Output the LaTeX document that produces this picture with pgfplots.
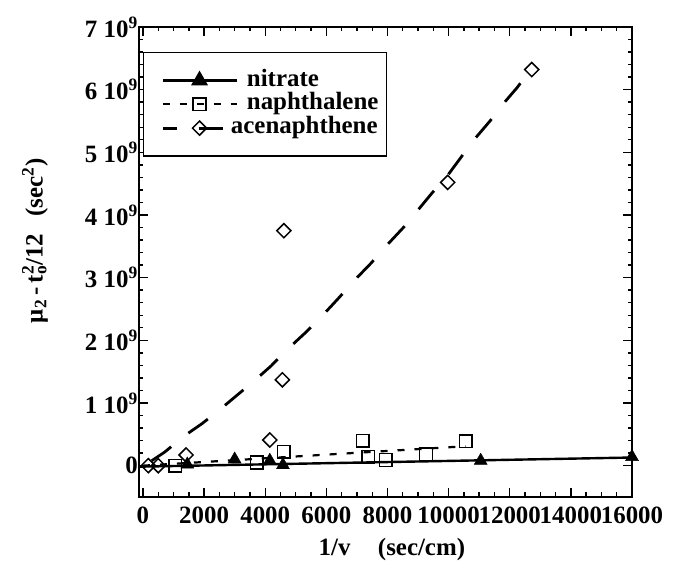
\documentclass[border=0pt]{standalone}
\usepackage{fontspec}
\setmainfont{Liberation Serif}
\usepackage{pgfplots}
\pgfplotsset{compat=1.18}

\newcommand{\lab}{\fontsize{25}{30}\selectfont\bfseries}

\begin{document}
\begin{tikzpicture}
\begin{axis}[
  scale only axis,
  width=493bp, height=470bp,
  xmin=-130, xmax=16000,
  ymin=-0.5e9, ymax=7e9,
  clip=false,
  axis line style={line width=2bp},
  every tick/.style={black, line width=1.4bp},
  major tick length=9bp, minor tick length=4.5bp,
  tick align=inside,
  xtick={0,2000,4000,6000,8000,10000,12000,14000,16000},
  xticklabels={0,2000,4000,6000,8000,10000,12000,14000,16000},
  minor x tick num=3,
  ytick={0,1e9,2e9,3e9,4e9,5e9,6e9,7e9},
  yticklabels={0,
    1 10\textsuperscript{9},2 10\textsuperscript{9},3 10\textsuperscript{9},
    4 10\textsuperscript{9},5 10\textsuperscript{9},6 10\textsuperscript{9},
    7 10\textsuperscript{9}},
  minor y tick num=4,
  scaled ticks=false,
  tick label style={font=\lab},
  xticklabel style={yshift=-6bp},
  yticklabel style={inner xsep=1bp},
  xlabel={1/v\hspace{1.1em}(sec/cm)},
  xlabel style={font=\lab, at={(axis description cs:0.513,-0.111)}, anchor=center},
  ylabel={μ\textsubscript{2}\,-\,t\rlap{\textsuperscript{2}}\textsubscript{o}/12\hspace{0.7em}(sec\textsuperscript{2})},
  ylabel style={font=\lab, at={(axis description cs:-0.211,0.545)}, anchor=center},
  legend style={at={(axis description cs:0.008,0.947)}, anchor=north west,
    draw=black, line width=1.4bp, inner xsep=8bp, inner ysep=16bp,
    font=\lab, row sep=0bp, column sep=0bp,
    nodes={inner ysep=0bp, inner xsep=0bp, text height=17.5bp, text depth=6.3bp}},
  legend cell align=left,
  legend image code/.code={
    \node[draw=none, fill=none, inner sep=0pt, minimum size=0pt] at (-12bp,0bp) {};
    \draw[mark repeat=2, mark phase=2, #1] plot coordinates {(0bp,0bp) (37bp,0bp) (74bp,0bp)};
  },
]

% legend entries: fitted line with its marker
\addlegendimage{black, line width=2.4bp, mark=triangle*, mark size=7.5bp, mark options={solid, fill=black}}
\addlegendentry{\hspace{9bp}nitrate}
\addlegendimage{black, line width=2.2bp, dash pattern=on 7bp off 10bp, mark=square, mark size=6.3bp, mark options={solid, line width=1.5bp, fill=white}}
\addlegendentry{\hspace{9bp}naphthalene}
\addlegendimage{black, line width=2.8bp, dash pattern=on 24bp off 22bp, dash phase=10bp, mark=square, mark size=5bp, mark options={solid, rotate=45, line width=1.5bp, fill=white}}
\addlegendentry{\hspace{-7bp}acenaphthene}

% nitrate: linear fit
\addplot[forget plot, black, line width=2.4bp] coordinates {(-130,-0.016e9) (16000,0.13e9)};

% naphthalene: linear fit
\addplot[forget plot, black, line width=2.2bp, dash pattern=on 7bp off 10bp]
  coordinates {(0,0) (10560,0.31e9)};

% acenaphthene: curved fit
\addplot[forget plot, black, line width=2.8bp, dash pattern=on 24bp off 22bp, dash phase=36bp]
  coordinates {
    (0,0) (229,0.06e9) (720,0.22e9) (1309,0.46e9) (1930,0.67e9) (2454,0.87e9)
    (3043,1.11e9) (3632,1.35e9) (4188,1.59e9) (4712,1.85e9) (5333,2.13e9)
    (5824,2.37e9) (6413,2.68e9) (6904,2.95e9) (7460,3.23e9) (7984,3.52e9)
    (8540,3.81e9) (8965,4.06e9) (9456,4.35e9) (9980,4.64e9) (10405,4.92e9)
    (10830,5.20e9) (11354,5.50e9) (11779,5.77e9) (12237,6.03e9) (12700,6.33e9)
  };

% measured points
\addplot[forget plot, only marks, mark=square, mark size=5bp,
  mark options={solid, rotate=45, line width=1.5bp, fill=white}]
  coordinates {
    (175,0.0e9) (500,0.0e9) (1410,0.17e9) (4150,0.41e9) (4560,1.37e9)
    (4610,3.75e9) (9970,4.52e9) (12720,6.32e9)
  };
\addplot[forget plot, only marks, mark=square, mark size=6.3bp,
  mark options={solid, line width=1.5bp, fill=white}]
  coordinates {
    (1050,0.0e9) (3720,0.05e9) (4610,0.22e9) (7190,0.40e9) (7370,0.14e9)
    (7940,0.09e9) (9260,0.18e9) (10560,0.39e9)
  };
\addplot[forget plot, only marks, mark=triangle*, mark size=7.5bp,
  mark options={solid, fill=black}]
  coordinates {
    (1450,0.02e9) (3000,0.10e9) (4150,0.08e9) (4580,0.01e9) (11050,0.08e9)
    (16000,0.14e9)
  };

\end{axis}
\pgfresetboundingbox
\path[use as bounding box] (-139bp,-82bp) rectangle (535bp,497bp);
\end{tikzpicture}
\end{document}
